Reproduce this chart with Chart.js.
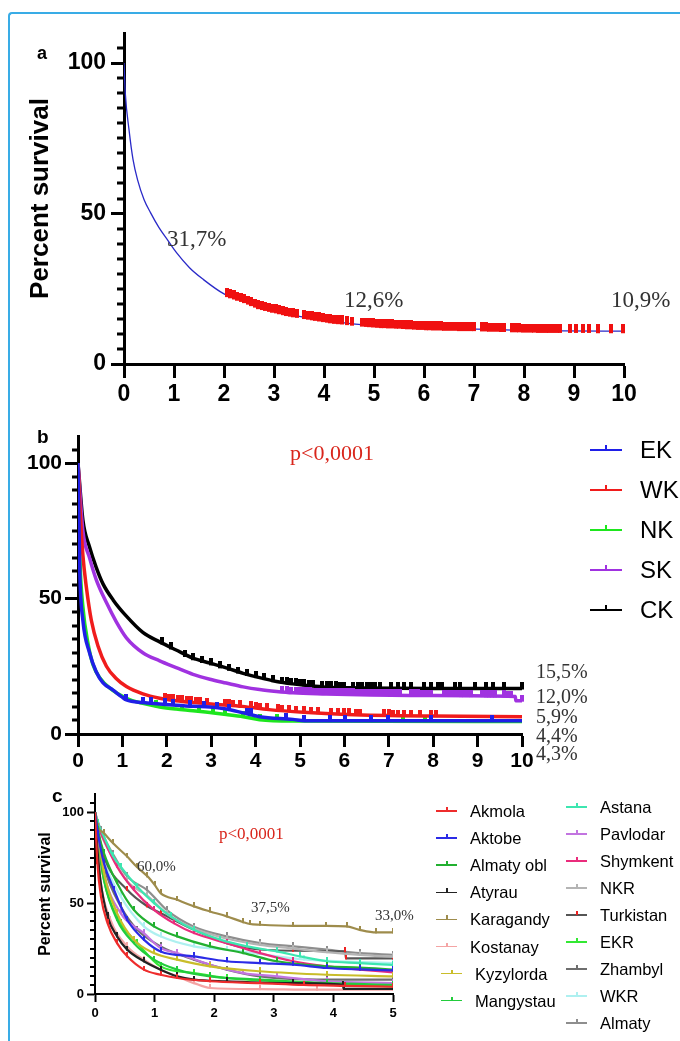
<!DOCTYPE html>
<html>
<head>
<meta charset="utf-8">
<script src="https://cdn.jsdelivr.net/npm/chart.js@4.4.1/dist/chart.umd.min.js"></script>
<style>
body { margin: 0; background: #fff; width: 680px; height: 1041px; position: relative; overflow: hidden; font-family: "Liberation Sans", Arial, sans-serif; }
canvas { position: absolute; left: 0; }
.frame { position: absolute; left: 8px; top: 12px; width: 720px; height: 1100px; border-left: 2px solid #39ace6; border-top: 2px solid #39ace6; border-top-left-radius: 4px; }
.t { position: absolute; white-space: nowrap; line-height: 1; transform: translateY(-50%); }
.serif { font-family: "Liberation Serif", "Times New Roman", serif; color: #333; }
.bold { font-weight: bold; color: #000; }
.s { position: absolute; }
</style>
</head>
<body>
<div class="frame"></div>
<canvas id="chartA" width="680" height="420" style="top:0px"></canvas>
<canvas id="chartB" width="680" height="400" style="top:400px"></canvas>
<canvas id="chartC" width="680" height="261" style="top:780px"></canvas>
<script>
// ---------- data: panel a (all patients) ----------
const yMajor = [0, 50, 100]
const xTicksA = [0, 1, 2, 3, 4, 5, 6, 7, 8, 9, 10]
const xTicksC = [0, 1, 2, 3, 4, 5]

const aCurve = [[0,100],[0.026,90],[0.1,77.9],[0.18,68],[0.27,61.3],[0.4,54.7],[0.53,50.3],[0.7,45.3],[0.88,41],[1.05,37],[1.31,32],[1.57,28.3],[2.0,23.3],[2.35,21.2],[2.7,18.8],[3.14,17.0],[3.48,15.9],[3.74,15.2],[4.09,14.3],[4.44,13.6],[4.87,12.9],[5.31,12.5],[5.74,12.2],[6.18,11.8],[7.05,11.6],[7.91,11.2],[8.78,11.0],[10,10.9]]
// censored patients (red ticks)
const aCens = [[2.05,22.9],[2.12,22.5],[2.19,22.1],[2.26,21.7],[2.33,21.3],[2.40,20.9],[2.47,20.4],[2.54,19.9],[2.61,19.4],[2.68,18.9],[2.75,18.6],[2.82,18.3],[2.89,18.0],[2.96,17.7],[3.03,17.5],[3.10,17.2],[3.17,16.9],[3.24,16.6],[3.31,16.4],[3.38,16.2],[3.45,16.0],
  [3.60,15.6],[3.67,15.4],[3.75,15.2],[3.82,15.0],[3.90,14.8],[3.97,14.6],[4.05,14.4],[4.12,14.2],[4.20,14.0],[4.28,13.9],[4.35,13.8],[4.46,13.6],[4.55,13.4],
  [4.75,13.1],[4.83,13.0],[4.90,12.9],[4.98,12.8],[5.05,12.7],[5.13,12.6],[5.20,12.6],[5.28,12.5],[5.35,12.5],[5.43,12.4],[5.50,12.4],[5.58,12.3],[5.65,12.2],[5.73,12.2],[5.80,12.1],[5.88,12.0],[5.95,12.0],[6.03,11.9],[6.10,11.9],[6.18,11.8],[6.25,11.8],[6.33,11.8],[6.40,11.7],[6.48,11.7],[6.55,11.7],[6.63,11.7],[6.70,11.6],[6.78,11.6],[6.85,11.6],[6.93,11.6],[7.00,11.6],
  [7.15,11.5],[7.23,11.5],[7.30,11.4],[7.38,11.4],[7.45,11.4],[7.53,11.3],[7.60,11.3],
  [7.75,11.2],[7.83,11.2],[7.90,11.2],[7.98,11.1],[8.05,11.1],[8.13,11.1],[8.20,11.1],[8.28,11.0],[8.35,11.0],[8.43,11.0],[8.50,11.0],[8.58,11.0],[8.65,11.0],[8.72,11.0],
  [8.91,11.0],[9.04,11.0],[9.17,11.0],[9.30,11.0],[9.48,10.9],[9.74,10.9],[9.97,10.9]]
const aNotes = ['31,7%', '12,6%', '10,9%']

// ---------- data: panel b (regions) ----------
const bNames = ['EK', 'WK', 'NK', 'SK', 'CK']
const bColors = ['#1f1fe8', '#f01c1c', '#1ee61e', '#a032e0', '#000000']
const ekCurve = [[0,100],[0.04,60],[0.11,42],[0.26,30],[0.41,23],[0.56,19],[0.79,16.2],[0.98,13.8],[1.09,12.6],[1.46,11.6],[1.84,11.1],[2.21,10.6],[2.59,10.2],[2.97,10.0],[3.34,9.2],[3.72,7.8],[4.09,6.4],[4.84,5.4],[5.1,4.9],[10,4.9]]
const wkCurve = [[0,100],[0.04,85],[0.11,66],[0.19,54],[0.3,42],[0.45,32.5],[0.64,25],[0.86,20.5],[1.09,17.5],[1.46,14.8],[1.84,13.2],[2.21,12.3],[2.63,11.6],[3.12,10.9],[3.7,10.2],[4.3,9.0],[5.08,8.0],[6.06,7.2],[8,6.6],[10,6.4]]
const nkCurve = [[0,100],[0.04,66],[0.11,47],[0.23,33],[0.34,25.5],[0.49,20.8],[0.71,17],[1.09,13.2],[1.46,11.3],[1.84,10.0],[2.21,9.2],[2.59,8.6],[2.97,7.9],[3.34,7.2],[3.72,6.4],[4.09,5.3],[4.84,4.8],[10,4.6]]
const skCurve = [[0,100],[0.11,75],[0.26,65],[0.41,57],[0.64,48.5],[0.86,41.5],[1.09,35.5],[1.46,30],[1.84,27],[2.21,24.5],[2.59,22],[2.97,20.2],[3.34,18.8],[3.72,17.4],[4.09,16.4],[4.47,15.7],[4.84,15.2],[5.59,14.8],[6.34,14.5],[8,14.2],[9.85,13.8],[9.86,12.3],[10,12.3]]
const ckCurve = [[0,100],[0.11,79],[0.26,69],[0.41,61.5],[0.56,55.5],[0.79,49.5],[1.09,43.5],[1.46,37.5],[1.84,34],[2.21,31],[2.59,28],[2.97,26.2],[3.34,24.4],[3.72,22.4],[4.09,20.8],[4.47,19.4],[4.84,18.5],[5.22,17.8],[5.59,17.3],[6.34,17.0],[8,16.8],[10,16.8]]
const ekCens = [[1.07,12.7],[1.46,11.6],[1.65,11.3],[1.95,10.9],[2.14,10.7],[2.53,10.3],[2.83,10.1],[3.12,9.7],[3.41,9.0],[3.81,7.5],[3.9,7.2],[4.69,5.6],[5.08,4.9],[5.67,4.9],[6.01,4.9],[6.6,4.9],[6.99,4.9],[7.96,4.9],[9.33,4.9]]
const wkCens = [[1.95,12.9],[2.05,12.7],[2.15,12.4],[2.25,12.2],[2.35,12.1],[2.45,11.9],[2.55,11.7],[2.65,11.6],[2.75,11.4],[2.9,11.2],[3.3,10.7],[3.4,10.6],[3.5,10.4],[3.65,10.3],[3.9,9.8],[4.0,9.6],[4.1,9.4],[4.25,9.1],[4.5,8.7],[4.6,8.6],[4.75,8.4],[4.9,8.2],[5.1,8.0],[5.25,7.8],[5.4,7.7],[5.7,7.5],[5.85,7.4],[6.0,7.3],[6.1,7.2],[6.25,7.1],[6.35,7.1],[6.9,6.9],[7.0,6.9],[7.1,6.8],[7.2,6.8],[7.35,6.8],[7.5,6.7],[7.7,6.7],[7.96,6.6],[8.06,6.6]]
const nkCens = [[1.75,10.3],[2.34,9.0],[2.73,8.4],[3.03,7.8],[3.32,7.2],[3.71,6.4],[4.1,5.3],[4.49,5.0],[5.08,4.8],[7.33,4.7],[7.82,4.7]]
const skCens = [[4.6,15.5],[4.7,15.4],[4.8,15.3],[4.9,15.2],[5.0,15.2],[5.08,15.1],[5.15,15.0],[5.23,15.0],[5.3,14.9],[5.38,14.9],[5.45,14.9],[5.53,14.8],[5.6,14.8],[5.68,14.8],[5.75,14.8],[5.83,14.7],[5.9,14.7],[5.98,14.7],[6.05,14.6],[6.12,14.6],[6.2,14.6],[6.28,14.5],[6.35,14.5],[6.42,14.5],[6.5,14.5],[6.58,14.5],[6.65,14.5],[6.72,14.4],[6.8,14.4],[6.88,14.4],[6.95,14.4],[7.02,14.4],[7.1,14.4],[7.18,14.3],[7.25,14.3],[7.5,14.3],[7.58,14.3],[7.65,14.3],[7.72,14.2],[7.8,14.2],[7.88,14.2],[7.95,14.2],[8.25,14.1],[8.32,14.1],[8.4,14.1],[8.48,14.1],[8.55,14.1],[8.62,14.0],[8.7,14.0],[8.78,14.0],[8.85,14.0],[9.1,14.0],[9.18,13.9],[9.25,13.9],[9.32,13.9],[9.4,13.9],[9.6,13.9],[9.68,13.8],[9.75,13.8],[10,12.3]]
const ckCens = [[1.9,33.5],[2.1,31.6],[2.4,28.8],[2.6,27.6],[2.8,26.6],[3.0,25.7],[3.2,24.6],[3.4,23.7],[3.6,22.7],[3.8,21.8],[4.0,21.0],[4.2,20.3],[4.4,19.5],[4.6,19.0],[4.7,18.8],[4.8,18.6],[4.9,18.4],[5.0,18.2],[5.1,18.0],[5.2,17.8],[5.3,17.7],[5.5,17.5],[5.6,17.3],[5.7,17.2],[5.8,17.2],[5.9,17.1],[6.0,17.1],[6.2,17.0],[6.3,17.0],[6.4,17.0],[6.5,17.0],[6.6,16.9],[6.7,16.9],[6.8,16.9],[7.05,16.8],[7.2,16.8],[7.35,16.8],[7.5,16.8],[7.8,16.8],[7.95,16.8],[8.1,16.8],[8.2,16.8],[8.5,16.8],[8.6,16.8],[8.95,16.8],[9.2,16.8],[9.35,16.8],[9.6,16.8],[10,16.8]]
const bEndNotes = ['15,5%', '12,0%', '5,9%', '4,4%', '4,3%']

// ---------- data: panel c (cities / oblasts, 5 years) ----------
const cNames = ['Akmola', 'Aktobe', 'Almaty obl', 'Atyrau', 'Karagandy', 'Kostanay', 'Kyzylorda', 'Mangystau',
  'Astana', 'Pavlodar', 'Shymkent', 'NKR', 'Turkistan', 'EKR', 'Zhambyl', 'WKR', 'Almaty']
const cColors = ['#ee2c2c', '#2b2be6', '#22b030', '#222222', '#9e8c4c', '#f4a4a4', '#c9bd2a', '#22cc3c',
  '#3de6b0', '#c274e0', '#ea2c7c', '#b4b4b4', '#555555', '#33e833', '#6e6e6e', '#aef0f0', '#8e8e8e']
const cTickColors = ['#ee2c2c', '#2b2be6', '#22b030', '#222222', '#9e8c4c', '#f4a4a4', '#c9bd2a', '#22cc3c',
  '#3de6b0', '#c274e0', '#ea2c7c', '#b4b4b4', '#ee2020', '#33e833', '#6e6e6e', '#aef0f0', '#8e8e8e']
const akmola = [[0,100],[0.04,72],[0.1,53.6],[0.21,39],[0.37,28],[0.54,20.7],[0.82,13.4],[1.1,10.6],[1.38,8.8],[1.93,7.0],[2.77,6.0],[3.5,5.0],[4.2,4.5],[5,4.0]]
const aktobe = [[0,100],[0.05,88],[0.15,72],[0.32,57.3],[0.54,40.8],[0.82,29.9],[1.1,23.4],[1.66,20.7],[2.21,18],[2.77,17],[3.33,16.1],[3.89,14.3],[4.44,13.5],[5,13]]
const almatyObl = [[0,100],[0.05,90],[0.15,77.5],[0.37,61],[0.65,46.3],[0.99,37.2],[1.38,31.7],[1.93,26.2],[2.49,22.5],[3.05,18],[3.89,15.2],[4.44,14.5],[5,13.4]]
const atyrau = [[0,100],[0.04,80],[0.09,62.8],[0.21,42.7],[0.37,31.7],[0.54,24.4],[0.82,18],[1.1,13.4],[1.38,9.7],[1.66,7.9],[2.21,7.0],[3.33,6.0],[4.16,5.1],[4.17,2.8],[5,2.8]]
const karagandy = [[0,100],[0.05,92],[0.15,88.5],[0.3,83],[0.54,75.6],[0.7,70],[0.88,64.7],[1.0,60],[1.1,55.5],[1.38,51.8],[1.66,48.2],[1.93,45.4],[2.21,42.7],[2.49,39.5],[2.6,38.5],[2.77,38.1],[3.33,37.5],[3.88,37.5],[4.22,37.2],[4.44,35.3],[4.72,33.9],[5,33.9]]
const kostanay = [[0,100],[0.04,82],[0.09,62.8],[0.26,40.8],[0.54,26.2],[0.82,18.9],[1.1,13.4],[1.38,9.7],[1.66,6.0],[1.93,3.3],[2.77,2.7],[3.72,2.4],[5,2.4]]
const kyzylorda = [[0,100],[0.05,88],[0.15,66.5],[0.37,44.5],[0.65,29.9],[0.99,22.5],[1.38,18.9],[1.93,15.2],[2.77,12.5],[3.89,10.6],[5,9.7]]
const mangystau = [[0,100],[0.05,85],[0.15,62.8],[0.37,40.8],[0.65,28],[0.99,18.9],[1.38,13.4],[1.93,9.7],[2.77,7.9],[3.89,6],[5,5.1]]
const astana = [[0,100],[0.05,94],[0.15,86.6],[0.3,76],[0.43,70],[0.71,59],[0.99,50],[1.27,42.7],[1.66,35.3],[2.1,29.9],[2.55,26.2],[3.05,23.4],[3.44,20.7],[3.89,18],[4.44,17],[5,16]]
const pavlodar = [[0,100],[0.05,88],[0.15,66.5],[0.43,44.5],[0.82,33.5],[1.1,25.3],[1.38,22.5],[1.93,16.1],[2.49,11.5],[3.05,9.7],[3.89,7],[5,6]]
const shymkent = [[0,100],[0.05,93],[0.15,84.8],[0.37,70],[0.65,57.3],[0.99,46.3],[1.32,39],[1.66,33.5],[2.21,28],[2.77,22.5],[3.33,18],[3.89,15.2],[4.44,13.4],[5,11.9]]
const nkr = [[0,100],[0.1,88],[0.3,75],[0.54,62],[0.88,54],[1.21,44],[1.66,36],[2.21,30.5],[2.77,27],[3.33,25],[3.89,23],[4.44,21.5],[5,20.5]]
const turkistan = [[0,100],[0.05,90],[0.15,75.8],[0.54,57.3],[0.88,48.2],[1.1,44.5],[1.66,35.3],[2.21,28],[2.55,25.3],[3.33,23.8],[4.2,23.4],[4.21,19.6],[5,19.6]]
const ekr = [[0,100],[0.05,84],[0.15,62.8],[0.43,39],[0.71,28],[1.1,15.2],[1.66,11.5],[2.21,8.8],[3.33,6.5],[5,4.2]]
const zhambyl = [[0,100],[0.05,86],[0.15,70],[0.43,48.2],[0.71,35.3],[1.1,26.2],[1.66,18.9],[2.21,13.4],[2.77,9.7],[3.89,7.9],[5,7.9]]
const wkr = [[0,100],[0.05,88],[0.15,73.8],[0.43,53.7],[0.82,37.2],[1.1,31.7],[1.66,26.2],[2.21,24.4],[2.77,22],[3.5,19],[5,17]]
const almaty = [[0,100],[0.1,90],[0.3,77],[0.54,64.7],[0.88,57],[1.21,46],[1.66,37],[2.21,31.7],[2.77,28],[3.33,26.2],[3.89,24.4],[4.44,22.5],[5,21.6]]
const cSeries = [akmola, aktobe, almatyObl, atyrau, karagandy, kostanay, kyzylorda, mangystau,
  astana, pavlodar, shymkent, nkr, turkistan, ekr, zhambyl, wkr, almaty]
const cNotes = ['60,0%', '37,5%', '33,0%']

const SANS = '"Liberation Sans", Arial, sans-serif'
const pValue = 'p<0,0001'

// petit trait vertical (patient censuré), dessiné vers le haut depuis le point
function tickImage(color, up, down, w) {
  const c = document.createElement('canvas')
  c.width = w
  c.height = 2 * Math.max(up, down)
  const g = c.getContext('2d')
  g.fillStyle = color
  g.fillRect(0, c.height / 2 - up, w, up + down)
  return c
}

function xy(p) {
  return p.map(q => ({x: q[0], y: q[1]}))
}

// graduations secondaires de l'axe Y (tous les 5 %)
const minorTicks = {
  id: 'minorTicks',
  afterDraw(chart, args, o) {
    const y = chart.scales.y
    const ctx = chart.ctx
    ctx.save()
    ctx.fillStyle = '#000'
    for (let v = 5; v < y.max; v += 5) {
      if (yMajor.includes(v)) continue
      const py = Math.round(y.getPixelForValue(v))
      ctx.fillRect(y.right - o.len, py - o.w / 2, o.len, o.w)
    }
    ctx.restore()
  }
}

function makeChart(id, datasets, c) {
  const yScale = {
    min: 0, max: 110,
    afterFit: s => { s.width = c.yW },
    afterBuildTicks: s => { s.ticks = yMajor.map(v => ({value: v})) },
    border: {width: c.axisW, color: '#000'},
    grid: {drawOnChartArea: false, tickLength: c.yTickLen, tickWidth: c.axisW, tickColor: '#000'},
    ticks: {color: '#000', padding: c.yPad, font: {family: SANS, size: c.font, weight: 'bold'}}
  }
  if (c.title) {
    yScale.title = {display: true, text: 'Percent survival', color: '#000',
      font: {family: SANS, size: c.titleSize, weight: 'bold'}, padding: {top: c.titlePad, bottom: 0}}
  }
  return new Chart(document.getElementById(id), {
    type: 'line',
    data: {datasets: datasets},
    options: {
      responsive: false,
      animation: false,
      events: [],
      layout: {padding: c.pad},
      plugins: {legend: {display: false}, tooltip: {enabled: false}, minorTicks: {len: c.minorLen, w: c.axisW}},
      scales: {
        x: {
          type: 'linear', min: 0, max: c.xMax,
          afterFit: s => { s.height = c.xH },
          afterBuildTicks: s => { s.ticks = c.xTicks.map(v => ({value: v})) },
          border: {width: c.axisW, color: '#000'},
          grid: {drawOnChartArea: false, tickLength: c.xTickLen, tickWidth: c.axisW, tickColor: '#000'},
          ticks: {color: '#000', padding: c.xPad, maxRotation: 0, font: {family: SANS, size: c.font, weight: 'bold'}}
        },
        y: yScale
      }
    },
    plugins: [minorTicks]
  })
}

function lineSet(data, color, width) {
  return {data: xy(data), borderColor: color, borderWidth: width, pointRadius: 0,
    cubicInterpolationMode: 'monotone', fill: false}
}
function censSet(data, img) {
  return {data: xy(data), showLine: false, pointStyle: img, pointRadius: 3, clip: false}
}

// ---- panel a ----
makeChart('chartA', [
  censSet(aCens, tickImage('#f01010', 7, 2, 4)),
  lineSet(aCurve, '#2a2ac8', 1.3)
], {pad: {top: 33, left: 0, right: 56, bottom: 6}, yW: 124, xH: 50, xMax: 10, xTicks: xTicksA,
    axisW: 3, yTickLen: 13, xTickLen: 14, minorLen: 7, font: 23, yPad: 5, xPad: 3,
    title: true, titleSize: 26, titlePad: 25})

// ---- panel b ----
const bCurves = [ekCurve, wkCurve, nkCurve, skCurve, ckCurve]
const bCens = [ekCens, wkCens, nkCens, skCens, ckCens]
const bSets = []
bCurves.forEach((cv, i) => {
  bSets.push(censSet(bCens[i], tickImage(bColors[i], 6, 1, 4)))
  bSets.push(lineSet(cv, bColors[i], 3.5))
})
makeChart('chartB', bSets,
  {pad: {top: 36, left: 0, right: 158, bottom: 21}, yW: 78, xH: 45, xMax: 10, xTicks: xTicksA,
   axisW: 3, yTickLen: 13, xTickLen: 13, minorLen: 6, font: 21, yPad: 3, xPad: 2, title: false})

// ---- panel c ----
const cSets = cSeries.map((s, i) => ({
  data: xy(s), borderColor: cColors[i], borderWidth: 2.2, cubicInterpolationMode: 'monotone', fill: false,
  pointStyle: tickImage(cTickColors[i], 4, 1, 2),
  pointRadius: ctx => ctx.dataIndex === 0 ? 0 : 3
}))
makeChart('chartC', cSets,
  {pad: {top: 14, left: 0, right: 287, bottom: 12}, yW: 95, xH: 35, xMax: 5, xTicks: xTicksC,
   axisW: 2, yTickLen: 8, xTickLen: 8, minorLen: 5, font: 13, yPad: 3, xPad: 4,
   title: true, titleSize: 16, titlePad: 36})

// ---------- texts & legends (HTML) ----------
function addText(x, y, str, cls, size, color) {
  const d = document.createElement('div')
  d.className = 't ' + cls
  d.style.left = x + 'px'
  d.style.top = y + 'px'
  d.style.fontSize = size + 'px'
  if (color) d.style.color = color
  d.textContent = str
  document.body.appendChild(d)
}
function addBox(x, y, w, h, color) {
  const d = document.createElement('div')
  d.className = 's'
  d.style.left = x + 'px'
  d.style.top = y + 'px'
  d.style.width = w + 'px'
  d.style.height = h + 'px'
  d.style.background = color
  document.body.appendChild(d)
}
function addSample(x, y, w, color, tickColor, lw, th) {
  addBox(x, y - lw / 2, w, lw, color)
  addBox(x + w / 2 - 1, y - th, 2, th, tickColor)
}

addText(37, 53, 'a', 'bold', 18)
addText(37, 436, 'b', 'bold', 19)
addText(52, 795, 'c', 'bold', 19)

// a
addText(167, 238, aNotes[0], 'serif', 23)
addText(344, 299, aNotes[1], 'serif', 23)
addText(611, 299, aNotes[2], 'serif', 23)

// b
addText(290, 453, pValue, 'serif', 22, '#d9261c')
bNames.forEach((n, i) => {
  const y = 450 + i * 40
  addSample(590, y, 32, bColors[i], bColors[i], 2, 5)
  addText(640, y, n, '', 24, '#000')
})
const bEndY = [671, 696, 716, 735, 753]
bEndNotes.forEach((n, i) => addText(536, bEndY[i], n, 'serif', 20))

// c
addText(219, 833, pValue, 'serif', 17, '#d9261c')
addText(137, 866, cNotes[0], 'serif', 15)
addText(251, 907, cNotes[1], 'serif', 15)
addText(375, 915, cNotes[2], 'serif', 15)
cNames.forEach((n, i) => {
  const col2 = i >= 8
  const row = col2 ? i - 8 : i
  const y = col2 ? 807 + row * 27 : 811 + row * 27.1
  const indent = (!col2 && row >= 6) ? 5 : 0
  const x = (col2 ? 566 : 436) + indent
  addSample(x, y, 21, cColors[i], cTickColors[i], 1.5, 4)
  addText(x + 34, y, n, '', 16.5, '#000')
})
</script>
</body>
</html>
